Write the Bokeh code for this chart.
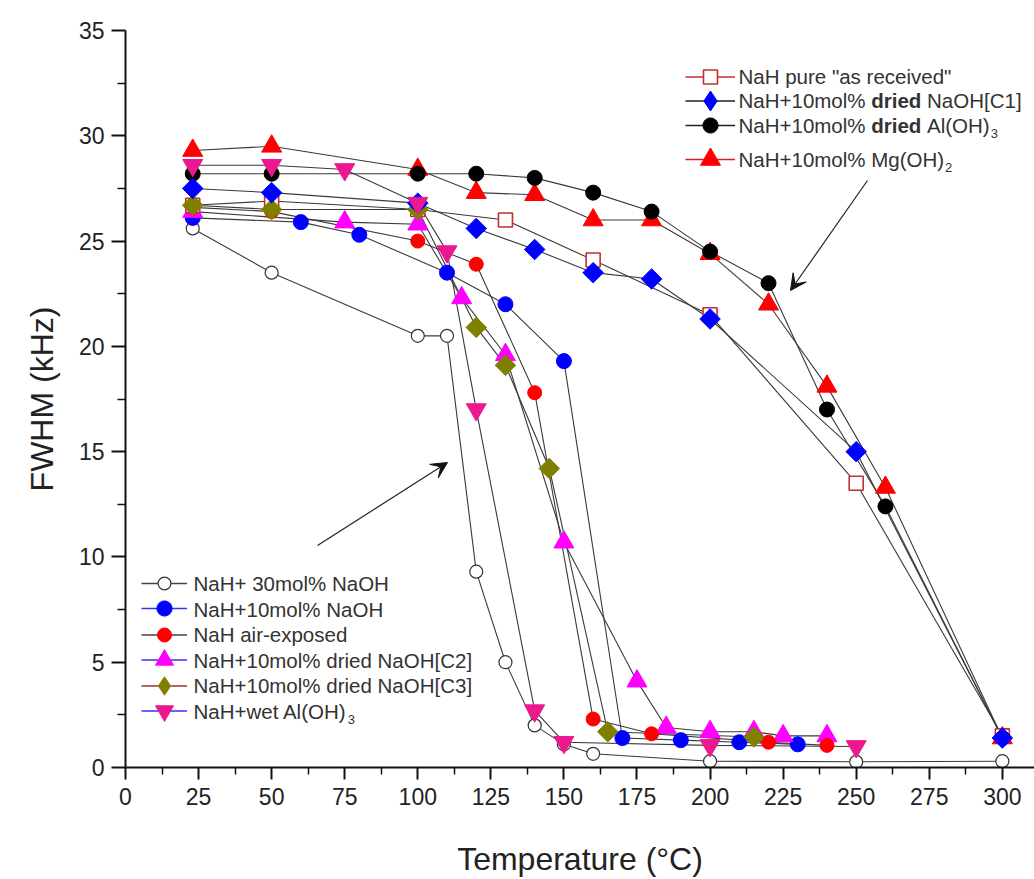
from bokeh.plotting import figure
from bokeh.models import (ColumnDataSource, FixedTicker, Legend, LegendItem, Label,
                          Arrow, VeeHead, Range1d)
from bokeh.embed import file_html
from bokeh.resources import INLINE
import math

# ---------------- data ----------------
T_pure = [23, 50, 100, 130, 160, 200, 250, 300]
F_pure = [26.7, 26.9, 26.5, 26.0, 24.1, 21.5, 13.5, 1.5]

T_c1 = [23, 50, 100, 120, 140, 160, 180, 200, 250, 300]
F_c1 = [27.5, 27.3, 26.8, 25.6, 24.6, 23.5, 23.2, 21.3, 15.0, 1.4]

T_al_dry = [23, 50, 100, 120, 140, 160, 180, 200, 220, 240, 260, 300]
F_al_dry = [28.2, 28.2, 28.2, 28.2, 28.0, 27.3, 26.4, 24.5, 23.0, 17.0, 12.4, 1.4]

T_mg = [23, 50, 100, 120, 140, 160, 180, 200, 220, 240, 260, 300]
F_mg = [29.3, 29.5, 28.4, 27.3, 27.2, 26.0, 26.0, 24.4, 22.0, 18.1, 13.3, 1.4]

T_30 = [23, 50, 100, 110, 120, 130, 140, 150, 160, 200, 250, 300]
F_30 = [25.6, 23.5, 20.5, 20.5, 9.3, 5.0, 2.0, 1.1, 0.65, 0.3, 0.27, 0.3]

T_10 = [23, 60, 80, 110, 130, 150, 170, 190, 210, 230]
F_10 = [26.1, 25.9, 25.3, 23.5, 22.0, 19.3, 1.4, 1.3, 1.2, 1.1]

T_air = [23, 50, 100, 120, 140, 160, 180, 220, 240]
F_air = [26.6, 26.4, 25.0, 23.9, 17.8, 2.3, 1.6, 1.2, 1.05]

T_c2 = [23, 75, 100, 115, 130, 150, 175, 185, 200, 215, 225, 240]
F_c2 = [26.4, 25.9, 25.8, 22.3, 19.6, 10.7, 4.1, 1.9, 1.7, 1.7, 1.5, 1.5]

T_c3 = [23, 50, 100, 120, 130, 145, 165, 215]
F_c3 = [26.7, 26.5, 26.5, 20.9, 19.1, 14.2, 1.7, 1.45]

T_wet = [23, 50, 75, 100, 110, 120, 140, 150, 200, 250]
F_wet = [28.6, 28.6, 28.4, 26.8, 24.5, 17.0, 2.7, 1.2, 1.05, 1.0]

x_ticks = [0, 25, 50, 75, 100, 125, 150, 175, 200, 225, 250, 275, 300]
y_ticks = [0, 5, 10, 15, 20, 25, 30, 35]

# ---------------- layout ----------------
X_END, Y_END = 311, 35
FL, FT, FW, FH = 125, 30, 909, 737      # frame (figure px)
FIG_H = 879
PL, PB = FL, FT + FH                     # frame left / bottom

def dx(px):
    return (px - PL) * X_END / FW

def dy(py):
    return (PB - py) * Y_END / FH

FONT = "Liberation Sans"
LINE_C = "#3a3a3a"
NAN = float("nan")

p = figure(width=FL + FW, height=FIG_H, output_backend="svg", toolbar_location=None,
           x_range=Range1d(0, X_END), y_range=Range1d(0, Y_END),
           min_border_left=FL, min_border_right=0, min_border_top=FT,
           min_border_bottom=FIG_H - FT - FH)
p.outline_line_color = None
p.xgrid.visible = False
p.ygrid.visible = False
p.background_fill_color = "white"

for ax in (p.xaxis[0], p.yaxis[0]):
    ax.axis_line_width = 2
    ax.axis_line_color = "#111"
    ax.major_tick_line_width = 2
    ax.major_tick_line_color = "#111"
    ax.minor_tick_line_width = 1.5
    ax.minor_tick_line_color = "#111"
    ax.major_tick_in = 0
    ax.minor_tick_in = 0
    ax.major_label_text_font = FONT
    ax.major_label_text_font_size = "23px"
    ax.major_label_text_color = "#222"
    ax.axis_label_text_font = FONT
    ax.axis_label_text_font_size = "32px"
    ax.axis_label_text_font_style = "normal"
    ax.axis_label_text_color = "#222"

p.xaxis[0].ticker = FixedTicker(ticks=x_ticks, minor_ticks=[t + 12.5 for t in x_ticks])
p.yaxis[0].ticker = FixedTicker(ticks=y_ticks, minor_ticks=[t + 2.5 for t in y_ticks])
p.xaxis[0].major_tick_out = 12
p.xaxis[0].minor_tick_out = 7
p.yaxis[0].major_tick_out = 14
p.yaxis[0].minor_tick_out = 8
p.xaxis[0].major_label_standoff = 8
p.yaxis[0].major_label_standoff = 7
p.xaxis[0].axis_label = "Temperature (°C)"
p.yaxis[0].axis_label = "FWHM (kHz)"
p.xaxis[0].axis_label_standoff = 33
p.yaxis[0].axis_label_standoff = 16

# series spec: T, F, marker, size, fill, line color, line width, angle, legend line color, legend marker
series = {
    "s30":  (T_30, F_30, "circle", 13, "white", "#333333", 1.2, 0, "#444444", None),
    "s10":  (T_10, F_10, "circle", 15, "#0000ff", "#0000ff", 1, 0, "#3333ff", None),
    "c2":   (T_c2, F_c2, "triangle", 20, "#ff00ff", "#ff00ff", 1, 0, "#3333ff", None),
    "air":  (T_air, F_air, "circle", 14, "#ff0000", "#ff0000", 1, 0, "#444444", None),
    "pure": (T_pure, F_pure, "square", 14, "white", "#c03030", 1.6, 0, "#c03030", None),
    "mg":   (T_mg, F_mg, "triangle", 20, "#ff0000", "#ff0000", 1, 0, "#d02020", None),
    "al":   (T_al_dry, F_al_dry, "circle", 15, "black", "black", 1, 0, "#222222", None),
    "c3":   (T_c3, F_c3, "square", 14.5, "#808000", "#808000", 1, math.pi / 4, "#a03030", "diamond"),
    "c1":   (T_c1, F_c1, "square", 14.5, "#0000ff", "#0000ff", 1, math.pi / 4, "#222222", "diamond"),
    "wet":  (T_wet, F_wet, "inverted_triangle", 20, "#ec1890", "#ec1890", 1, 0, "#3333ff", None),
}

# connecting lines first
for key, (T, F, *_rest) in series.items():
    p.line(T, F, line_color=LINE_C, line_width=1.1)

marker_r = {}
for key, (T, F, mk, sz, fc, lc, lw, ang, _llc, _lm) in series.items():
    src = ColumnDataSource(dict(x=T, y=F))
    marker_r[key] = p.scatter("x", "y", source=src, marker=mk, size=sz, fill_color=fc,
                              line_color=lc, line_width=lw, angle=ang)

# ---------------- legends (one per row) ----------------
def legend_row(key, left_px, yc_px, gw, msize):
    T, F, mk, sz, fc, lc, lw, ang, llc, lmk = series[key]
    gh = msize / 0.4
    lr = p.line(x=[NAN], y=[NAN], line_color=llc, line_width=1.3)
    if lmk is None:
        mr = marker_r[key]
    else:
        mr = p.scatter(x=[NAN], y=[NAN], marker=lmk, fill_color=fc, line_color=lc)
    leg = Legend(items=[LegendItem(label=" ", renderers=[lr, mr])],
                 location=(left_px - PL, PB - yc_px - gh / 2),
                 glyph_width=gw, glyph_height=int(round(gh)), padding=0, margin=0,
                 spacing=0, label_standoff=0, label_height=0, label_width=0,
                 label_text_font_size="6px", background_fill_alpha=0,
                 border_line_alpha=0)
    p.add_layout(leg)

L1_ROWS = [("pure", 76, 14), ("c1", 100, 22), ("al", 125, 15), ("mg", 159, 20)]
for key, yc, ms in L1_ROWS:
    legend_row(key, 685, yc, 50, ms)

L2_ROWS = [("s30", 583, 13), ("s10", 608.5, 15), ("air", 634, 14), ("c2", 659.5, 18),
           ("c3", 685, 22), ("wet", 710.5, 18)]
for key, yc, ms in L2_ROWS:
    legend_row(key, 141, yc, 46, ms)

# legend text with bold runs and subscripts
W = {' ': 278, '"': 355, '%': 889, '(': 333, ')': 333, '+': 584, '-': 333, '0': 556, '1': 556,
     '2': 556, '3': 556, '[': 278, ']': 278, 'A': 667, 'C': 722, 'H': 722, 'M': 833, 'N': 722,
     'O': 778, 'a': 556, 'c': 500, 'd': 556, 'e': 556, 'g': 556, 'i': 222, 'l': 222, 'm': 833,
     'o': 556, 'p': 556, 'r': 333, 's': 500, 't': 278, 'u': 556, 'v': 500, 'w': 722, 'x': 500,
     'k': 500, 'z': 500}
WB = {'d': 611, 'r': 389, 'i': 278, 'e': 556, ' ': 278}

FS, SFS = 20.5, 13

def text_row(x0, yc, runs):
    x = x0
    for txt, style in runs:
        if style == "sub":
            p.add_layout(Label(x=dx(x + 1), y=dy(yc + 8), text=txt, text_font=FONT,
                               text_font_size=f"{SFS}px", text_color="#333",
                               text_baseline="middle", text_align="left"))
            x += W.get(txt, 556) / 1000 * SFS + 1
            continue
        bold = style == "bold"
        tbl = WB if bold else W
        lead = len(txt) - len(txt.lstrip(" "))
        x += lead * tbl[' '] / 1000 * FS
        body = txt.strip(" ")
        p.add_layout(Label(x=dx(x), y=dy(yc), text=body, text_font=FONT,
                           text_font_size=f"{FS}px", text_color="#333",
                           text_font_style="bold" if bold else "normal",
                           text_baseline="middle", text_align="left"))
        x += sum(tbl.get(c, W.get(c, 556)) for c in txt.lstrip(" ")) / 1000 * FS

L1_TEXT = [
    [('NaH pure "as received"', "n")],
    [("NaH+10mol% ", "n"), ("dried", "bold"), (" NaOH[C1]", "n")],
    [("NaH+10mol% ", "n"), ("dried", "bold"), (" Al(OH)", "n"), ("3", "sub")],
    [("NaH+10mol% Mg(OH)", "n"), ("2", "sub")],
]
for (key, yc, _m), runs in zip(L1_ROWS, L1_TEXT):
    text_row(738, yc, runs)

L2_TEXT = [
    [("NaH+ 30mol% NaOH", "n")],
    [("NaH+10mol% NaOH", "n")],
    [("NaH air-exposed", "n")],
    [("NaH+10mol% dried NaOH[C2]", "n")],
    [("NaH+10mol% dried NaOH[C3]", "n")],
    [("NaH+wet Al(OH)", "n"), ("3", "sub")],
]
for (key, yc, _m), runs in zip(L2_ROWS, L2_TEXT):
    text_row(193, yc, runs)

# arrows
for (x0, y0, x1, y1) in [(317, 545, 447, 462), (867, 180, 790, 290)]:
    p.add_layout(Arrow(x_start=dx(x0), y_start=dy(y0), x_end=dx(x1), y_end=dy(y1),
                       line_color="#222", line_width=1.2,
                       end=VeeHead(size=16, fill_color="#111", line_color="#111")))

open("out.html", "w").write(file_html(p, INLINE))
